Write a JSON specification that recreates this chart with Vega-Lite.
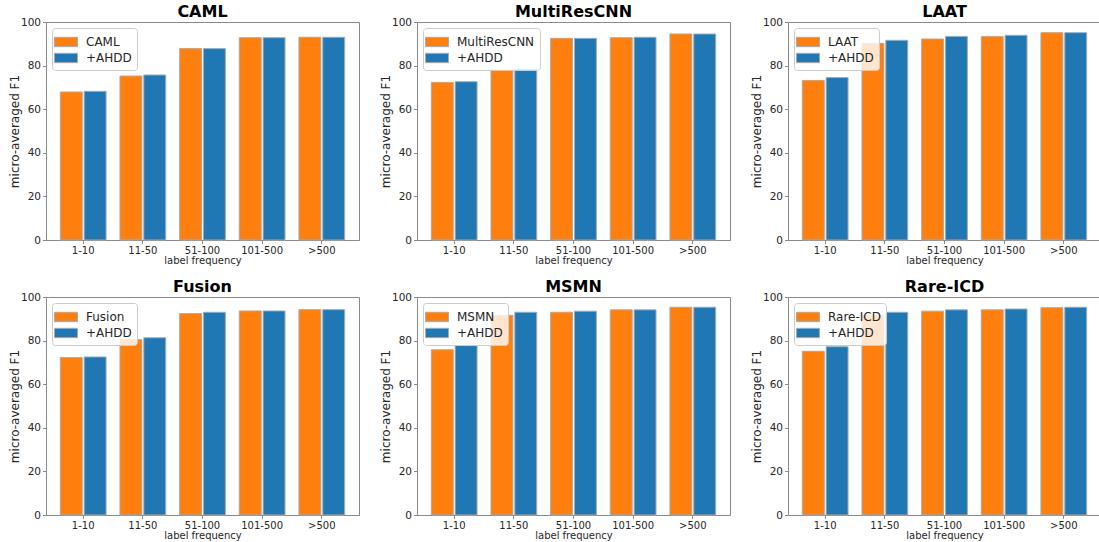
{
  "$schema": "https://vega.github.io/schema/vega-lite/v6.json",
  "padding": {"left": 7, "top": 3, "right": 0, "bottom": 0},
  "background": "white",
  "config": {
    "font": "DejaVu Sans",
    "view": {"stroke": "#8a8a8a", "strokeWidth": 1},
    "axis": {"grid": false, "domainColor": "#8a8a8a", "tickColor": "#8a8a8a", "tickSize": 3.5, "labelFontSize": 10, "labelColor": "#262626", "titleColor": "#262626", "titleFontWeight": "normal", "labelPadding": 2},
    "axisY": {"titleFontSize": 12, "maxExtent": 22, "minExtent": 22, "titlePadding": 3, "labelFontSize": 10.5},
    "axisX": {"titleFontSize": 10, "titlePadding": 0, "labelPadding": 1.5, "labelAngle": 0},
    "title": {"fontSize": 16, "fontWeight": "bold", "offset": -3, "color": "#000000"},
    "legend": {"orient": "top-left", "offset": 6, "padding": 5, "strokeColor": "#cccccc", "fillColor": "rgba(255,255,255,0.8)", "cornerRadius": 3, "labelFontSize": 12, "labelOffset": 11, "rowPadding": 0, "labelColor": "#262626", "symbolOpacity": 1}
  },
  "data": {"values": [
    {"panel": "CAML", "freq": "1-10", "method": "CAML", "f1": 67.9},
    {"panel": "CAML", "freq": "1-10", "method": "+AHDD", "f1": 68.2},
    {"panel": "CAML", "freq": "11-50", "method": "CAML", "f1": 75.2},
    {"panel": "CAML", "freq": "11-50", "method": "+AHDD", "f1": 75.7},
    {"panel": "CAML", "freq": "51-100", "method": "CAML", "f1": 87.8},
    {"panel": "CAML", "freq": "51-100", "method": "+AHDD", "f1": 87.8},
    {"panel": "CAML", "freq": "101-500", "method": "CAML", "f1": 92.8},
    {"panel": "CAML", "freq": "101-500", "method": "+AHDD", "f1": 92.8},
    {"panel": "CAML", "freq": ">500", "method": "CAML", "f1": 93.0},
    {"panel": "CAML", "freq": ">500", "method": "+AHDD", "f1": 93.0},
    {"panel": "MultiResCNN", "freq": "1-10", "method": "MultiResCNN", "f1": 72.3},
    {"panel": "MultiResCNN", "freq": "1-10", "method": "+AHDD", "f1": 72.6},
    {"panel": "MultiResCNN", "freq": "11-50", "method": "MultiResCNN", "f1": 78.0},
    {"panel": "MultiResCNN", "freq": "11-50", "method": "+AHDD", "f1": 78.4},
    {"panel": "MultiResCNN", "freq": "51-100", "method": "MultiResCNN", "f1": 92.5},
    {"panel": "MultiResCNN", "freq": "51-100", "method": "+AHDD", "f1": 92.5},
    {"panel": "MultiResCNN", "freq": "101-500", "method": "MultiResCNN", "f1": 92.8},
    {"panel": "MultiResCNN", "freq": "101-500", "method": "+AHDD", "f1": 93.0},
    {"panel": "MultiResCNN", "freq": ">500", "method": "MultiResCNN", "f1": 94.5},
    {"panel": "MultiResCNN", "freq": ">500", "method": "+AHDD", "f1": 94.5},
    {"panel": "LAAT", "freq": "1-10", "method": "LAAT", "f1": 73.2},
    {"panel": "LAAT", "freq": "1-10", "method": "+AHDD", "f1": 74.5},
    {"panel": "LAAT", "freq": "11-50", "method": "LAAT", "f1": 90.2},
    {"panel": "LAAT", "freq": "11-50", "method": "+AHDD", "f1": 91.6},
    {"panel": "LAAT", "freq": "51-100", "method": "LAAT", "f1": 92.2},
    {"panel": "LAAT", "freq": "51-100", "method": "+AHDD", "f1": 93.4},
    {"panel": "LAAT", "freq": "101-500", "method": "LAAT", "f1": 93.3},
    {"panel": "LAAT", "freq": "101-500", "method": "+AHDD", "f1": 93.9},
    {"panel": "LAAT", "freq": ">500", "method": "LAAT", "f1": 95.1},
    {"panel": "LAAT", "freq": ">500", "method": "+AHDD", "f1": 95.1},
    {"panel": "Fusion", "freq": "1-10", "method": "Fusion", "f1": 72.2},
    {"panel": "Fusion", "freq": "1-10", "method": "+AHDD", "f1": 72.5},
    {"panel": "Fusion", "freq": "11-50", "method": "Fusion", "f1": 80.4},
    {"panel": "Fusion", "freq": "11-50", "method": "+AHDD", "f1": 81.3},
    {"panel": "Fusion", "freq": "51-100", "method": "Fusion", "f1": 92.4},
    {"panel": "Fusion", "freq": "51-100", "method": "+AHDD", "f1": 93.0},
    {"panel": "Fusion", "freq": "101-500", "method": "Fusion", "f1": 93.6},
    {"panel": "Fusion", "freq": "101-500", "method": "+AHDD", "f1": 93.6},
    {"panel": "Fusion", "freq": ">500", "method": "Fusion", "f1": 94.2},
    {"panel": "Fusion", "freq": ">500", "method": "+AHDD", "f1": 94.2},
    {"panel": "MSMN", "freq": "1-10", "method": "MSMN", "f1": 75.8},
    {"panel": "MSMN", "freq": "1-10", "method": "+AHDD", "f1": 77.7},
    {"panel": "MSMN", "freq": "11-50", "method": "MSMN", "f1": 91.6},
    {"panel": "MSMN", "freq": "11-50", "method": "+AHDD", "f1": 93.0},
    {"panel": "MSMN", "freq": "51-100", "method": "MSMN", "f1": 93.0},
    {"panel": "MSMN", "freq": "51-100", "method": "+AHDD", "f1": 93.5},
    {"panel": "MSMN", "freq": "101-500", "method": "MSMN", "f1": 94.1},
    {"panel": "MSMN", "freq": "101-500", "method": "+AHDD", "f1": 94.1},
    {"panel": "MSMN", "freq": ">500", "method": "MSMN", "f1": 95.3},
    {"panel": "MSMN", "freq": ">500", "method": "+AHDD", "f1": 95.3},
    {"panel": "Rare-ICD", "freq": "1-10", "method": "Rare-ICD", "f1": 75.1},
    {"panel": "Rare-ICD", "freq": "1-10", "method": "+AHDD", "f1": 77.2},
    {"panel": "Rare-ICD", "freq": "11-50", "method": "Rare-ICD", "f1": 91.6},
    {"panel": "Rare-ICD", "freq": "11-50", "method": "+AHDD", "f1": 93.0},
    {"panel": "Rare-ICD", "freq": "51-100", "method": "Rare-ICD", "f1": 93.5},
    {"panel": "Rare-ICD", "freq": "51-100", "method": "+AHDD", "f1": 94.1},
    {"panel": "Rare-ICD", "freq": "101-500", "method": "Rare-ICD", "f1": 94.1},
    {"panel": "Rare-ICD", "freq": "101-500", "method": "+AHDD", "f1": 94.5},
    {"panel": "Rare-ICD", "freq": ">500", "method": "Rare-ICD", "f1": 95.1},
    {"panel": "Rare-ICD", "freq": ">500", "method": "+AHDD", "f1": 95.3}
  ]},
  "spacing": 12,
  "resolve": {"scale": {"color": "independent", "xOffset": "independent"}, "legend": {"color": "independent"}},
  "vconcat": [
    {
      "spacing": 18,
      "resolve": {"scale": {"color": "independent", "xOffset": "independent"}, "legend": {"color": "independent"}},
      "hconcat": [
        {
          "width": 313, "height": 218, "title": "CAML",
          "transform": [{"filter": "datum.panel === 'CAML'"}],
          "mark": {"type": "bar", "stroke": "#aaaaaa", "strokeWidth": 1},
          "encoding": {
            "x": {"field": "freq", "type": "nominal", "sort": ["1-10", "11-50", "51-100", "101-500", ">500"], "scale": {"paddingInner": 0.233, "paddingOuter": 0.24}, "axis": {"title": "label frequency"}},
            "xOffset": {"field": "method", "type": "nominal", "sort": ["CAML", "+AHDD"], "scale": {"paddingInner": 0.08}},
            "y": {"field": "f1", "type": "quantitative", "scale": {"domain": [0, 100]}, "axis": {"title": "micro-averaged F1", "values": [0, 20, 40, 60, 80, 100]}},
            "color": {"field": "method", "type": "nominal", "scale": {"domain": ["CAML", "+AHDD"], "range": ["#ff7f0e", "#1f77b4"]}, "legend": {"title": null, "symbolType": "M-1.35,-0.55H1.35V0.55H-1.35Z", "symbolSize": 289, "symbolStrokeColor": "#aaaaaa", "symbolStrokeWidth": 1}}
          }
        },
        {
          "width": 313, "height": 218, "title": "MultiResCNN",
          "transform": [{"filter": "datum.panel === 'MultiResCNN'"}],
          "mark": {"type": "bar", "stroke": "#aaaaaa", "strokeWidth": 1},
          "encoding": {
            "x": {"field": "freq", "type": "nominal", "sort": ["1-10", "11-50", "51-100", "101-500", ">500"], "scale": {"paddingInner": 0.233, "paddingOuter": 0.24}, "axis": {"title": "label frequency"}},
            "xOffset": {"field": "method", "type": "nominal", "sort": ["MultiResCNN", "+AHDD"], "scale": {"paddingInner": 0.08}},
            "y": {"field": "f1", "type": "quantitative", "scale": {"domain": [0, 100]}, "axis": {"title": "micro-averaged F1", "values": [0, 20, 40, 60, 80, 100]}},
            "color": {"field": "method", "type": "nominal", "scale": {"domain": ["MultiResCNN", "+AHDD"], "range": ["#ff7f0e", "#1f77b4"]}, "legend": {"title": null, "symbolType": "M-1.35,-0.55H1.35V0.55H-1.35Z", "symbolSize": 289, "symbolStrokeColor": "#aaaaaa", "symbolStrokeWidth": 1}}
          }
        },
        {
          "width": 313, "height": 218, "title": "LAAT",
          "transform": [{"filter": "datum.panel === 'LAAT'"}],
          "mark": {"type": "bar", "stroke": "#aaaaaa", "strokeWidth": 1},
          "encoding": {
            "x": {"field": "freq", "type": "nominal", "sort": ["1-10", "11-50", "51-100", "101-500", ">500"], "scale": {"paddingInner": 0.233, "paddingOuter": 0.24}, "axis": {"title": "label frequency"}},
            "xOffset": {"field": "method", "type": "nominal", "sort": ["LAAT", "+AHDD"], "scale": {"paddingInner": 0.08}},
            "y": {"field": "f1", "type": "quantitative", "scale": {"domain": [0, 100]}, "axis": {"title": "micro-averaged F1", "values": [0, 20, 40, 60, 80, 100]}},
            "color": {"field": "method", "type": "nominal", "scale": {"domain": ["LAAT", "+AHDD"], "range": ["#ff7f0e", "#1f77b4"]}, "legend": {"title": null, "symbolType": "M-1.35,-0.55H1.35V0.55H-1.35Z", "symbolSize": 289, "symbolStrokeColor": "#aaaaaa", "symbolStrokeWidth": 1}}
          }
        }
      ]
    },
    {
      "spacing": 18,
      "resolve": {"scale": {"color": "independent", "xOffset": "independent"}, "legend": {"color": "independent"}},
      "hconcat": [
        {
          "width": 313, "height": 218, "title": "Fusion",
          "transform": [{"filter": "datum.panel === 'Fusion'"}],
          "mark": {"type": "bar", "stroke": "#aaaaaa", "strokeWidth": 1},
          "encoding": {
            "x": {"field": "freq", "type": "nominal", "sort": ["1-10", "11-50", "51-100", "101-500", ">500"], "scale": {"paddingInner": 0.233, "paddingOuter": 0.24}, "axis": {"title": "label frequency"}},
            "xOffset": {"field": "method", "type": "nominal", "sort": ["Fusion", "+AHDD"], "scale": {"paddingInner": 0.08}},
            "y": {"field": "f1", "type": "quantitative", "scale": {"domain": [0, 100]}, "axis": {"title": "micro-averaged F1", "values": [0, 20, 40, 60, 80, 100]}},
            "color": {"field": "method", "type": "nominal", "scale": {"domain": ["Fusion", "+AHDD"], "range": ["#ff7f0e", "#1f77b4"]}, "legend": {"title": null, "symbolType": "M-1.35,-0.55H1.35V0.55H-1.35Z", "symbolSize": 289, "symbolStrokeColor": "#aaaaaa", "symbolStrokeWidth": 1}}
          }
        },
        {
          "width": 313, "height": 218, "title": "MSMN",
          "transform": [{"filter": "datum.panel === 'MSMN'"}],
          "mark": {"type": "bar", "stroke": "#aaaaaa", "strokeWidth": 1},
          "encoding": {
            "x": {"field": "freq", "type": "nominal", "sort": ["1-10", "11-50", "51-100", "101-500", ">500"], "scale": {"paddingInner": 0.233, "paddingOuter": 0.24}, "axis": {"title": "label frequency"}},
            "xOffset": {"field": "method", "type": "nominal", "sort": ["MSMN", "+AHDD"], "scale": {"paddingInner": 0.08}},
            "y": {"field": "f1", "type": "quantitative", "scale": {"domain": [0, 100]}, "axis": {"title": "micro-averaged F1", "values": [0, 20, 40, 60, 80, 100]}},
            "color": {"field": "method", "type": "nominal", "scale": {"domain": ["MSMN", "+AHDD"], "range": ["#ff7f0e", "#1f77b4"]}, "legend": {"title": null, "symbolType": "M-1.35,-0.55H1.35V0.55H-1.35Z", "symbolSize": 289, "symbolStrokeColor": "#aaaaaa", "symbolStrokeWidth": 1}}
          }
        },
        {
          "width": 313, "height": 218, "title": "Rare-ICD",
          "transform": [{"filter": "datum.panel === 'Rare-ICD'"}],
          "mark": {"type": "bar", "stroke": "#aaaaaa", "strokeWidth": 1},
          "encoding": {
            "x": {"field": "freq", "type": "nominal", "sort": ["1-10", "11-50", "51-100", "101-500", ">500"], "scale": {"paddingInner": 0.233, "paddingOuter": 0.24}, "axis": {"title": "label frequency"}},
            "xOffset": {"field": "method", "type": "nominal", "sort": ["Rare-ICD", "+AHDD"], "scale": {"paddingInner": 0.08}},
            "y": {"field": "f1", "type": "quantitative", "scale": {"domain": [0, 100]}, "axis": {"title": "micro-averaged F1", "values": [0, 20, 40, 60, 80, 100]}},
            "color": {"field": "method", "type": "nominal", "scale": {"domain": ["Rare-ICD", "+AHDD"], "range": ["#ff7f0e", "#1f77b4"]}, "legend": {"title": null, "symbolType": "M-1.35,-0.55H1.35V0.55H-1.35Z", "symbolSize": 289, "symbolStrokeColor": "#aaaaaa", "symbolStrokeWidth": 1}}
          }
        }
      ]
    }
  ]
}
